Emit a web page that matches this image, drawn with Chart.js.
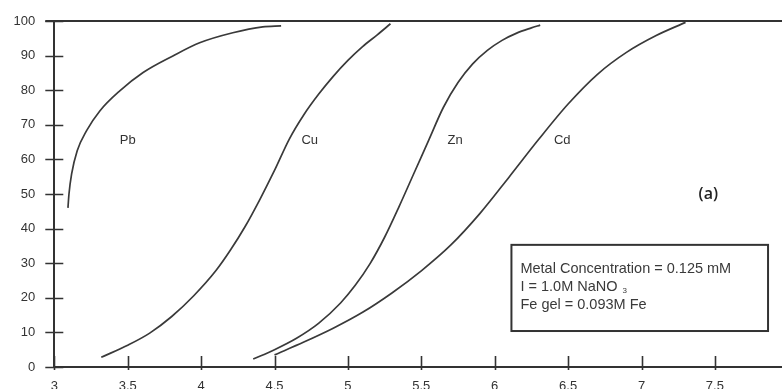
<!DOCTYPE html>
<html>
<head>
<meta charset="utf-8">
<style>
  html, body { margin: 0; padding: 0; background: #fff; overflow: hidden; width: 782px; height: 389px; }
  canvas { display: block; }
</style>
<script src="https://cdn.jsdelivr.net/npm/chart.js@4/dist/chart.umd.min.js"></script>
</head>
<body>
<canvas id="c" width="800" height="400"></canvas>
<script>
// Percent metal sorbed versus pH for each metal
const pbPH     = [3.093, 3.100, 3.118, 3.156, 3.220, 3.310, 3.446, 3.605, 3.808, 3.990, 4.216, 4.420, 4.545];
const pbSorbed = [46.0, 50.0, 55.8, 62.5, 68.3, 74.0, 79.8, 85.1, 89.9, 93.7, 96.6, 98.3, 98.6];

const cuPH     = [3.32, 3.50, 3.65, 3.80, 3.95, 4.10, 4.20, 4.30, 4.40, 4.50, 4.60, 4.70, 4.80, 4.90, 5.00, 5.10, 5.20, 5.29];
const cuSorbed = [2.8, 6.3, 9.8, 14.6, 20.6, 27.8, 33.8, 40.6, 48.4, 56.8, 65.8, 72.9, 78.8, 84.0, 88.6, 92.6, 96.0, 99.2];

const znPH     = [4.355, 4.50, 4.65, 4.80, 4.95, 5.05, 5.15, 5.25, 5.35, 5.45, 5.55, 5.65, 5.75, 5.85, 5.95, 6.05, 6.15, 6.25, 6.31];
const znSorbed = [2.3, 5.0, 8.3, 12.6, 18.5, 23.6, 29.8, 37.5, 46.5, 56.0, 65.5, 75.0, 82.2, 87.6, 91.5, 94.4, 96.5, 98.0, 98.8];

const cdPH     = [4.50, 4.70, 4.90, 5.10, 5.30, 5.50, 5.70, 5.90, 6.10, 6.30, 6.50, 6.70, 6.90, 7.10, 7.30];
const cdSorbed = [3.5, 7.2, 11.2, 15.8, 21.4, 27.8, 35.2, 44.4, 55.0, 65.8, 76.0, 84.6, 91.0, 95.8, 99.6];

// Curve names and where each name sits (pH, % sorbed)
const metalNames = ['Pb', 'Cu', 'Zn', 'Cd'];
const nameAtPH   = [3.50, 4.74, 5.73, 6.46];
const nameAtPct  = [65.4, 65.4, 65.4, 65.4];

// Axis ticks
const xTickValues = [3, 3.5, 4, 4.5, 5, 5.5, 6, 6.5, 7, 7.5, 8];
const yTickValues = [0, 10, 20, 30, 40, 50, 60, 70, 80, 90, 100];

// Experimental conditions note
const noteLines = ['Metal Concentration = 0.125 mM', 'I = 1.0M NaNO', 'Fe gel = 0.093M Fe'];
const panelTag = '(a)';

const toPoints = (xs, ys) => xs.map((v, i) => ({ x: v, y: ys[i] }));
const curve = (label, xs, ys) => ({
  label,
  data: toPoints(xs, ys),
  showLine: true,
  borderColor: '#3a3a3a',
  borderWidth: 1.7,
  pointRadius: 0,
  fill: false,
  cubicInterpolationMode: 'monotone'
});

const decorations = {
  id: 'decorations',
  afterDatasetsDraw(chart) {
    const { ctx, chartArea: a, scales: { x, y } } = chart;
    ctx.save();
    ctx.strokeStyle = '#333';

    // top frame line
    ctx.lineWidth = 2;
    ctx.beginPath();
    ctx.moveTo(a.left - 9, a.top);
    ctx.lineTo(chart.width, a.top);
    ctx.stroke();

    // tick marks crossing the axes
    ctx.lineWidth = 1.6;
    ctx.beginPath();
    yTickValues.forEach(v => {
      const py = Math.round(y.getPixelForValue(v)) + 0.5;
      ctx.moveTo(a.left - 9, py);
      ctx.lineTo(a.left + 9, py);
    });
    xTickValues.forEach(v => {
      const px = Math.round(x.getPixelForValue(v)) + 0.5;
      ctx.moveTo(px, a.bottom - 11);
      ctx.lineTo(px, a.bottom + 3);
    });
    ctx.stroke();

    // curve names
    ctx.fillStyle = '#333';
    ctx.font = '13px "Liberation Sans", Arial, sans-serif';
    ctx.textAlign = 'center';
    ctx.textBaseline = 'middle';
    metalNames.forEach((n, i) => {
      ctx.fillText(n, x.getPixelForValue(nameAtPH[i]), y.getPixelForValue(nameAtPct[i]));
    });

    // panel tag
    ctx.font = '600 16px "Open Sans", sans-serif';
    ctx.fillStyle = '#222';
    ctx.fillText(panelTag, x.getPixelForValue(7.455), y.getPixelForValue(50));

    // conditions box
    const bx1 = x.getPixelForValue(6.114), bx2 = x.getPixelForValue(7.862);
    const by1 = y.getPixelForValue(35.3), by2 = y.getPixelForValue(10.4);
    ctx.lineWidth = 2;
    ctx.strokeStyle = '#333';
    ctx.strokeRect(bx1, by1, bx2 - bx1, by2 - by1);

    ctx.fillStyle = '#3a3a3a';
    ctx.textAlign = 'left';
    ctx.font = '14.5px "Liberation Sans", Arial, sans-serif';
    const tx = bx1 + 9;
    const ty = by1 + 24;
    noteLines.forEach((t, i) => ctx.fillText(t, tx, ty + i * 18));
    // subscript 3 of NaNO3
    const w = ctx.measureText(noteLines[1]).width;
    ctx.font = '8px "Liberation Sans", Arial, sans-serif';
    ctx.fillText('3', tx + w + 5, ty + 18 + 4);
    ctx.restore();
  }
};

new Chart(document.getElementById('c'), {
  type: 'scatter',
  data: {
    datasets: [
      curve('Pb', pbPH, pbSorbed),
      curve('Cu', cuPH, cuSorbed),
      curve('Zn', znPH, znSorbed),
      curve('Cd', cdPH, cdSorbed)
    ]
  },
  options: {
    responsive: false,
    animation: false,
    devicePixelRatio: 1,
    layout: { padding: { top: 21, right: 11.7, left: 0, bottom: 0 } },
    plugins: { legend: { display: false }, tooltip: { enabled: false } },
    scales: {
      x: {
        type: 'linear',
        min: 3, max: 8,
        afterFit: s => { s.height = 33; s.paddingLeft = 0; s.paddingRight = 0; },
        afterBuildTicks: s => { s.ticks = xTickValues.map(v => ({ value: v })); },
        grid: { display: false, drawTicks: false },
        border: { display: true, color: '#333', width: 2 },
        ticks: {
          padding: 12,
          color: '#333',
          maxRotation: 0,
          autoSkip: false,
          font: { family: '"Liberation Sans", Arial, sans-serif', size: 13 },
          callback: v => String(v)
        }
      },
      y: {
        type: 'linear',
        min: 0, max: 100,
        afterFit: s => { s.width = 54.3; s.paddingTop = 0; s.paddingBottom = 0; },
        afterBuildTicks: s => { s.ticks = yTickValues.map(v => ({ value: v })); },
        grid: { display: false, drawTicks: false },
        border: { display: true, color: '#333', width: 2 },
        ticks: {
          padding: 19,
          color: '#333',
          font: { family: '"Liberation Sans", Arial, sans-serif', size: 13 },
          callback: v => String(v)
        }
      }
    }
  },
  plugins: [decorations]
});
</script>
</body>
</html>
